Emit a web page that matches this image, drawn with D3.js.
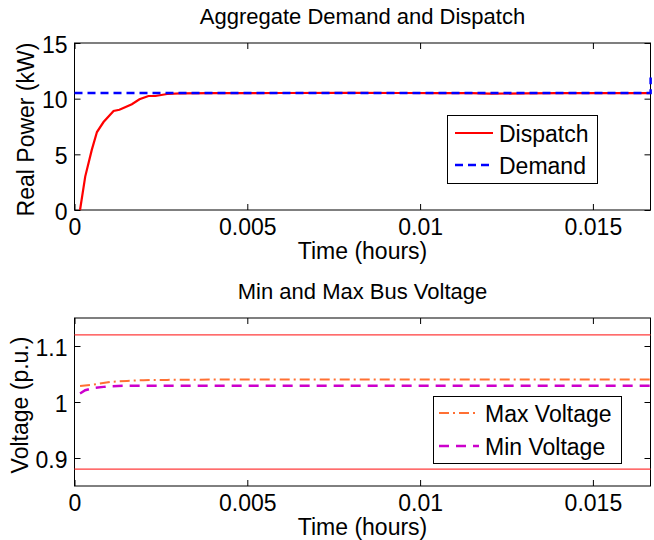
<!DOCTYPE html>
<html>
<head>
<meta charset="utf-8">
<script src="https://cdn.jsdelivr.net/npm/d3@7"></script>
<style>
  body { margin: 0; background: #fff; }
  svg text { font-family: "Liberation Sans", Arial, Helvetica, sans-serif; fill: #000; }
</style>
</head>
<body>
<div id="chart"></div>
<script>
// time axis (hours) and tick labels
var xTicks = [0, 0.005, 0.01, 0.015];
var xTickLabels = ["0", "0.005", "0.01", "0.015"];
var powerTicks = [0, 5, 10, 15];
var voltTicks = [0.9, 1, 1.1];
var voltTickLabels = ["0.9", "1", "1.1"];

// aggregate dispatch (kW)
var dispatchTime = [0.00016, 0.00031, 0.0005, 0.00065, 0.00084, 0.00113, 0.0013, 0.00166, 0.00188,
  0.00214, 0.00234, 0.00268, 0.00306, 0.004, 0.006, 0.008, 0.0095, 0.0105, 0.0115, 0.012, 0.013,
  0.014, 0.0155, 0.01667];
var dispatchKW = [0, 3.0, 5.4, 7.0, 7.9, 8.9, 9.0, 9.5, 9.95,
  10.24, 10.24, 10.42, 10.48, 10.5, 10.51, 10.52, 10.51, 10.5, 10.49, 10.45, 10.47,
  10.5, 10.49, 10.5];

// demand (kW)
var demandTime = [0, 0.01667, 0.01667];
var demandKW = [10.5, 10.5, 11.9];

// bus voltages (p.u.)
var maxVoltTime = [0.00016, 0.00055, 0.00103, 0.00152, 0.002, 0.00268, 0.004, 0.008, 0.012, 0.01667];
var maxVoltage = [1.0287, 1.0312, 1.0359, 1.0377, 1.039, 1.0395, 1.04, 1.04, 1.04, 1.04];
var minVoltTime = [0.00016, 0.00031, 0.00055, 0.00084, 0.00103, 0.0015, 0.004, 0.008, 0.012, 0.01667];
var minVoltage = [1.0151, 1.021, 1.0251, 1.027, 1.0282, 1.029, 1.029, 1.029, 1.029, 1.029];
var upperLimit = 1.12;
var lowerLimit = 0.88;

var svgWidth = 654;
var svgHeight = 540;

var svg = d3.select("#chart")
  .append("svg")
  .attr("width", svgWidth)
  .attr("height", svgHeight);

svg.append("rect")
  .attr("width", svgWidth)
  .attr("height", svgHeight)
  .attr("fill", "#fff");

var left = 74.5, right = 650.5;

// draws the box, inward ticks on all four sides, labels and title
function drawPanel(top, bottom, yScale, yTicks, yTickLabels, title, yLabel, yLabelX) {
  var x = d3.scaleLinear().domain([0, 1 / 60]).range([left, right]);

  var g = svg.append("g");

  g.append("g")
    .attr("transform", `translate(0, ${bottom})`)
    .call(d3.axisBottom(x).tickValues(xTicks).tickSize(-6).tickPadding(9)
      .tickFormat((d, i) => xTickLabels[i]))
    .call(a => a.select(".domain").remove())
    .selectAll("text").attr("font-size", 23);

  g.append("g")
    .attr("transform", `translate(0, ${top})`)
    .call(d3.axisTop(x).tickValues(xTicks).tickSize(-6).tickFormat(""))
    .call(a => a.select(".domain").remove());

  g.append("g")
    .attr("transform", `translate(${left}, 0)`)
    .call(d3.axisLeft(yScale).tickValues(yTicks).tickSize(-6).tickPadding(7)
      .tickFormat((d, i) => yTickLabels[i]))
    .call(a => a.select(".domain").remove())
    .selectAll("text").attr("font-size", 23).attr("dy", "0.4em");

  g.append("g")
    .attr("transform", `translate(${right}, 0)`)
    .call(d3.axisRight(yScale).tickValues(yTicks).tickSize(-6).tickFormat(""))
    .call(a => a.select(".domain").remove());

  g.selectAll(".tick line").attr("stroke", "#000");

  g.append("rect")
    .attr("x", left)
    .attr("y", top)
    .attr("width", right - left)
    .attr("height", bottom - top)
    .attr("fill", "none")
    .attr("stroke", "#000")
    .attr("stroke-width", 1);

  svg.append("text")
    .attr("x", (left + right) / 2)
    .attr("y", top - 19)
    .attr("text-anchor", "middle")
    .attr("font-size", 22)
    .text(title);

  svg.append("text")
    .attr("x", (left + right) / 2)
    .attr("y", bottom + 49)
    .attr("text-anchor", "middle")
    .attr("font-size", 23)
    .text("Time (hours)");

  svg.append("text")
    .attr("transform", `translate(${yLabelX}, ${(top + bottom) / 2 + 3}) rotate(-90)`)
    .attr("text-anchor", "middle")
    .attr("font-size", 23)
    .text(yLabel);

  return x;
}

// top panel: power
var yPower = d3.scaleLinear().domain([0, 15]).range([210, 43]);
var xPower = drawPanel(43, 210, yPower, powerTicks, powerTicks.map(String),
  "Aggregate Demand and Dispatch", "Real Power (kW)", 34);

var powerLine = d3.line()
  .x(d => xPower(d[0]))
  .y(d => yPower(d[1]));

svg.append("path")
  .datum(dispatchTime.map((t, i) => [t, dispatchKW[i]]))
  .attr("d", powerLine)
  .attr("fill", "none")
  .attr("stroke", "#ff0000")
  .attr("stroke-width", 2.2);

svg.append("path")
  .datum(demandTime.map((t, i) => [t, demandKW[i]]))
  .attr("d", powerLine)
  .attr("fill", "none")
  .attr("stroke", "#0000ff")
  .attr("stroke-width", 2.5)
  .attr("stroke-dasharray", "8,5");

// bottom panel: voltage
var yVolt = d3.scaleLinear().domain([0.85, 1.15]).range([486, 318]);
var xVolt = drawPanel(318, 486, yVolt, voltTicks, voltTickLabels,
  "Min and Max Bus Voltage", "Voltage (p.u.)", 28);

var voltLine = d3.line()
  .x(d => xVolt(d[0]))
  .y(d => yVolt(d[1]));

[upperLimit, lowerLimit].forEach(function(v) {
  svg.append("path")
    .datum([[0, v], [1 / 60, v]])
    .attr("d", voltLine)
    .attr("fill", "none")
    .attr("stroke", "#ff3b3b")
    .attr("stroke-width", 1.2);
});

svg.append("path")
  .datum(maxVoltTime.map((t, i) => [t, maxVoltage[i]]))
  .attr("d", voltLine)
  .attr("fill", "none")
  .attr("stroke", "#ff7033")
  .attr("stroke-width", 2)
  .attr("stroke-dasharray", "10,4,2,4");

svg.append("path")
  .datum(minVoltTime.map((t, i) => [t, minVoltage[i]]))
  .attr("d", voltLine)
  .attr("fill", "none")
  .attr("stroke", "#cc00cc")
  .attr("stroke-width", 2.5)
  .attr("stroke-dasharray", "10,7");

// legends
function drawLegend(x0, y0, w, h, items) {
  var lg = svg.append("g");
  lg.append("rect")
    .attr("x", x0).attr("y", y0)
    .attr("width", w).attr("height", h)
    .attr("fill", "#fff")
    .attr("stroke", "#000")
    .attr("stroke-width", 1);
  items.forEach(function(it) {
    lg.append("line")
      .attr("x1", it.x1).attr("x2", it.x2)
      .attr("y1", it.y).attr("y2", it.y)
      .attr("stroke", it.color)
      .attr("stroke-width", it.width)
      .attr("stroke-dasharray", it.dash);
    lg.append("text")
      .attr("x", it.x2 + 6)
      .attr("y", it.y + 9)
      .attr("font-size", 23)
      .text(it.label);
  });
}

drawLegend(447.5, 115.5, 150, 68, [
  { label: "Dispatch", color: "#ff0000", width: 2.2, dash: null, x1: 455, x2: 493, y: 133 },
  { label: "Demand", color: "#0000ff", width: 2.5, dash: "8,5", x1: 455, x2: 493, y: 165 }
]);

drawLegend(433.5, 396.5, 188, 67, [
  { label: "Max Voltage", color: "#ff7033", width: 2, dash: "10,4,2,4", x1: 439, x2: 479, y: 413 },
  { label: "Min Voltage", color: "#cc00cc", width: 2.5, dash: "10,7", x1: 439, x2: 479, y: 446 }
]);
</script>
</body>
</html>
